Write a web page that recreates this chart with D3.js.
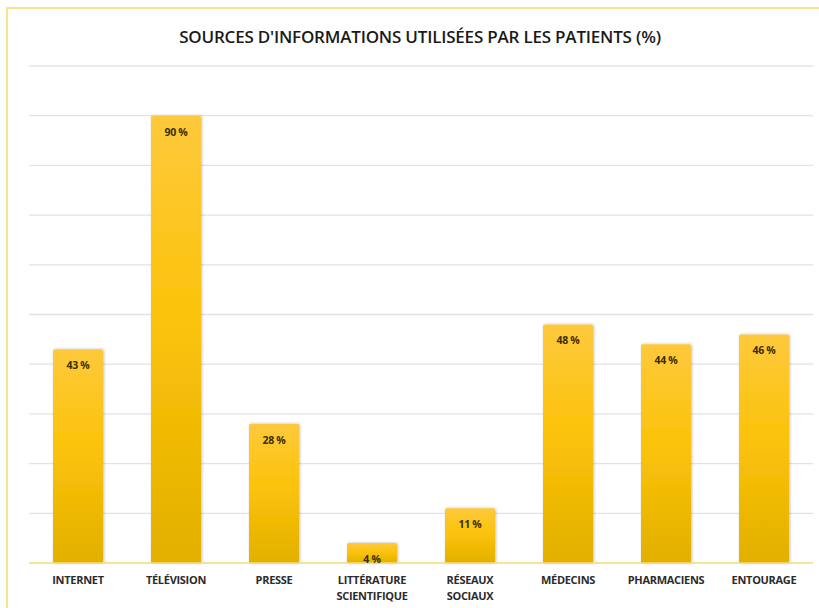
<!DOCTYPE html>
<html>
<head>
<meta charset="utf-8">
<script src="https://cdn.jsdelivr.net/npm/d3@7"></script>
<style>
  body { margin: 0; background: #fff; }
  svg { display: block; font-family: "Open Sans", "Liberation Sans", sans-serif; }
</style>
</head>
<body>
<div id="chart"></div>
<script>
// data
var categories = ["INTERNET", "TÉLÉVISION", "PRESSE", "LITTÉRATURE\nSCIENTIFIQUE",
                  "RÉSEAUX\nSOCIAUX", "MÉDECINS", "PHARMACIENS", "ENTOURAGE"]
var values = [43, 90, 28, 4, 11, 48, 44, 46]
var gridTicks = [0, 10, 20, 30, 40, 50, 60, 70, 80, 90, 100]

var W = 819, H = 608
var margin = {top: 66, right: 6, bottom: 45, left: 29}

var svg = d3.select("#chart").append("svg")
    .attr("width", W)
    .attr("height", H)

// bar gradient
var defs = svg.append("defs")
var grad = defs.append("linearGradient")
    .attr("id", "barGrad")
    .attr("x1", 0).attr("y1", 0).attr("x2", 0).attr("y2", 1)
grad.append("stop").attr("offset", "0%").attr("stop-color", "#fdc93c")
grad.append("stop").attr("offset", "45%").attr("stop-color", "#fcc30a")
grad.append("stop").attr("offset", "100%").attr("stop-color", "#e2b000")

var shadow = defs.append("filter").attr("id", "shadow")
    .attr("x", "-20%").attr("y", "-20%").attr("width", "140%").attr("height", "140%")
shadow.append("feDropShadow")
    .attr("dx", 1).attr("dy", 0).attr("stdDeviation", 1.5)
    .attr("flood-color", "#000").attr("flood-opacity", 0.25)

// frame (yellow border on top & left)
svg.append("rect")
    .attr("x", 7).attr("y", 8)
    .attr("width", W + 20).attr("height", H + 20)
    .attr("fill", "none")
    .attr("stroke", "#f7dc6a")
    .attr("stroke-width", 1.5)

var x = d3.scaleBand()
    .domain(categories)
    .range([margin.left, W - margin.right])
    .paddingInner(0.49)
    .paddingOuter(0.245)

var y = d3.scaleLinear()
    .domain([0, 100])
    .range([H - margin.bottom, margin.top])

// gridlines
svg.append("g")
    .selectAll("line")
    .data(gridTicks.slice(1))
    .enter()
    .append("line")
    .attr("x1", margin.left)
    .attr("x2", W - margin.right)
    .attr("y1", d => y(d))
    .attr("y2", d => y(d))
    .attr("stroke", "#e3e3e3")
    .attr("stroke-width", 1.3)

// bars
svg.append("g")
    .selectAll("rect")
    .data(values)
    .enter()
    .append("rect")
    .attr("x", (d, i) => x(categories[i]))
    .attr("y", d => y(d))
    .attr("width", x.bandwidth())
    .attr("height", d => y(0) - y(d))
    .attr("rx", 1.5)
    .attr("fill", "url(#barGrad)")
    .attr("filter", "url(#shadow)")

// baseline
svg.append("line")
    .attr("x1", margin.left)
    .attr("x2", W - margin.right)
    .attr("y1", y(0))
    .attr("y2", y(0))
    .attr("stroke", "#f3d978")
    .attr("stroke-width", 1.5)

// value labels
svg.append("g")
    .selectAll("text")
    .data(values)
    .enter()
    .append("text")
    .attr("x", (d, i) => x(categories[i]) + x.bandwidth() / 2)
    .attr("y", d => y(d) + 20)
    .attr("text-anchor", "middle")
    .attr("font-size", "10.5px")
    .attr("font-weight", 700)
    .attr("fill", "#3a2d00")
    .attr("letter-spacing", "-0.3px")
    .text(d => d + " %")

// category labels
var cats = svg.append("g")
    .selectAll("text")
    .data(categories)
    .enter()
    .append("text")
    .attr("x", d => x(d) + x.bandwidth() / 2)
    .attr("y", 584)
    .attr("text-anchor", "middle")
    .attr("font-size", "11px")
    .attr("font-weight", 700)
    .attr("fill", "#2b2b2b")
    .attr("letter-spacing", "-0.3px")

cats.selectAll("tspan")
    .data(d => d.split("\n"))
    .enter()
    .append("tspan")
    .attr("x", function () { return d3.select(this.parentNode).attr("x") })
    .attr("dy", (d, i) => i === 0 ? 0 : 16)
    .text(d => d)

// title
svg.append("text")
    .attr("x", 420)
    .attr("y", 43)
    .attr("text-anchor", "middle")
    .attr("font-size", "17px")
    .attr("font-weight", 600)
    .attr("fill", "#1a1a1a")
    .attr("letter-spacing", "-0.2px")
    .text("SOURCES D'INFORMATIONS UTILISÉES PAR LES PATIENTS (%)")
</script>
</body>
</html>
